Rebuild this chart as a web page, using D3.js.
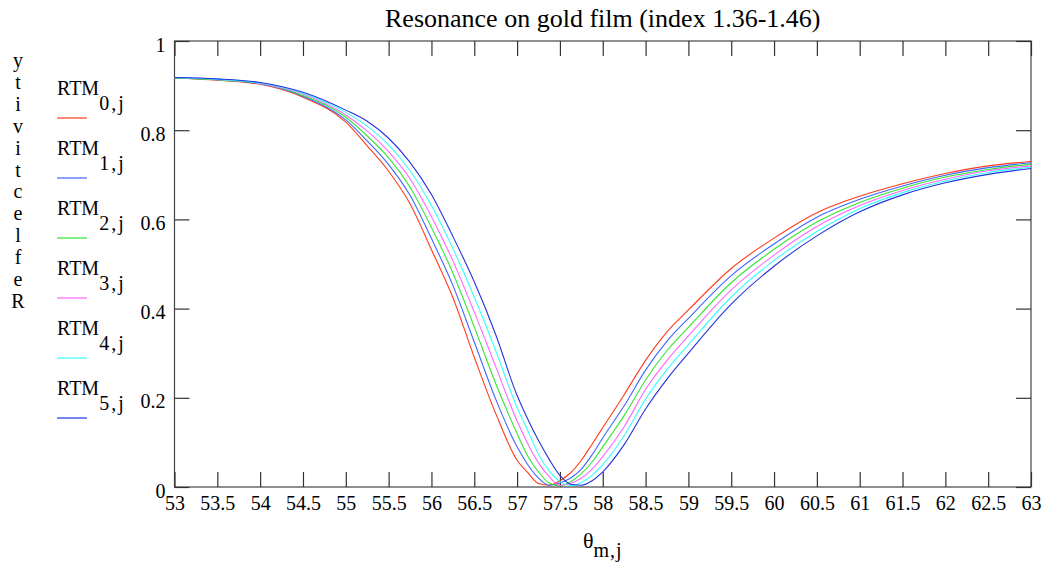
<!DOCTYPE html>
<html>
<head>
<meta charset="UTF-8">
<title>Resonance on gold film</title>
<script src="https://d3js.org/d3.v7.min.js"></script>
<style>
  body { margin: 0; background: #fff; }
  text { font-family: "Liberation Serif", "Times New Roman", serif; fill: #000; }
</style>
</head>
<body>
<div id="chart"></div>
<script>
// angle grid (deg) and reflectivity, one array per curve
var theta = [53, 53.5, 54, 54.5, 55, 55.25, 55.5, 55.75, 56, 56.25, 56.5, 56.75,
             57, 57.125, 57.25, 57.375, 57.5, 57.625, 57.75, 57.875, 58, 58.25,
             58.5, 58.75, 59, 59.5, 60, 60.5, 61, 61.5, 62, 62.5, 63];

var rtm0 = [0.917, 0.912, 0.903, 0.874, 0.818, 0.765, 0.708, 0.635, 0.532, 0.425, 0.291, 0.165,
            0.060, 0.032, 0.008, 0.004, 0.014, 0.032, 0.060, 0.096, 0.133, 0.207,
            0.284, 0.348, 0.397, 0.490, 0.558, 0.615, 0.652, 0.680, 0.703, 0.720, 0.730];
var rtm1 = [0.917, 0.913, 0.904, 0.876, 0.823, 0.776, 0.723, 0.654, 0.557, 0.452, 0.325, 0.197,
            0.090, 0.050, 0.020, 0.004, 0.009, 0.020, 0.040, 0.072, 0.110, 0.182,
            0.262, 0.327, 0.378, 0.474, 0.545, 0.605, 0.645, 0.675, 0.699, 0.716, 0.727];
var rtm2 = [0.917, 0.913, 0.905, 0.878, 0.829, 0.787, 0.738, 0.672, 0.582, 0.480, 0.359, 0.232,
            0.120, 0.069, 0.034, 0.009, 0.003, 0.012, 0.030, 0.056, 0.090, 0.160,
            0.240, 0.306, 0.358, 0.458, 0.533, 0.594, 0.638, 0.670, 0.695, 0.712, 0.724];
var rtm3 = [0.918, 0.914, 0.905, 0.881, 0.834, 0.798, 0.752, 0.691, 0.606, 0.507, 0.392, 0.270,
            0.148, 0.097, 0.054, 0.023, 0.004, 0.008, 0.020, 0.040, 0.068, 0.135,
            0.219, 0.284, 0.339, 0.442, 0.520, 0.584, 0.631, 0.665, 0.690, 0.709, 0.720];
var rtm4 = [0.918, 0.914, 0.906, 0.883, 0.840, 0.809, 0.767, 0.709, 0.631, 0.535, 0.426, 0.306,
            0.178, 0.126, 0.073, 0.036, 0.012, 0.003, 0.010, 0.026, 0.050, 0.115,
            0.197, 0.263, 0.319, 0.426, 0.508, 0.573, 0.624, 0.660, 0.686, 0.705, 0.717];
var rtm5 = [0.918, 0.915, 0.907, 0.885, 0.845, 0.820, 0.782, 0.728, 0.656, 0.562, 0.460, 0.342,
            0.205, 0.152, 0.104, 0.062, 0.026, 0.006, 0.004, 0.014, 0.034, 0.095,
            0.175, 0.242, 0.300, 0.410, 0.495, 0.563, 0.617, 0.655, 0.682, 0.701, 0.714];

var seriesIdx = ["0", "1", "2", "3", "4", "5"];
var seriesColors = ["#ff3b1a", "#3d66ff", "#33e633", "#ff66ff", "#33ffff", "#2233dd"];
var xTickValues = [53, 53.5, 54, 54.5, 55, 55.5, 56, 56.5, 57, 57.5, 58, 58.5, 59, 59.5, 60, 60.5, 61, 61.5, 62, 62.5, 63];
var yTickValues = [0, 0.2, 0.4, 0.6, 0.8, 1];

var series = [rtm0, rtm1, rtm2, rtm3, rtm4, rtm5];

var W = 1047, H = 563;
var plotLeft = 174.5, plotRight = 1031, plotTop = 41, plotBottom = 487;

var svg = d3.select("#chart").append("svg")
    .attr("width", W)
    .attr("height", H);

var x = d3.scaleLinear().domain([53, 63]).range([plotLeft, plotRight]);
var y = d3.scaleLinear().domain([0, 1]).range([plotBottom, plotTop]);

// frame
svg.append("rect")
    .attr("x", plotLeft).attr("y", plotTop)
    .attr("width", plotRight - plotLeft).attr("height", plotBottom - plotTop)
    .attr("fill", "none").attr("stroke", "#444").attr("stroke-width", 1.2);

function styleAxis(g) {
    g.select(".domain").remove();
    g.selectAll(".tick line").attr("stroke", "#333").attr("stroke-width", 1.2);
    g.selectAll(".tick text").style("font-size", "20px").style("font-family", "'Liberation Serif', serif");
}

svg.append("g")
    .attr("transform", "translate(0," + plotBottom + ")")
    .call(d3.axisBottom(x).tickValues(xTickValues).tickFormat(d3.format("")).tickSizeInner(-15).tickSizeOuter(0).tickPadding(9))
    .call(styleAxis);

svg.append("g")
    .attr("transform", "translate(0," + plotTop + ")")
    .call(d3.axisTop(x).tickValues(xTickValues).tickFormat("").tickSizeInner(-15).tickSizeOuter(0))
    .call(styleAxis);

svg.append("g")
    .attr("transform", "translate(" + plotLeft + ",0)")
    .call(d3.axisLeft(y).tickValues(yTickValues).tickFormat(d3.format("")).tickSizeInner(-15).tickSizeOuter(0).tickPadding(9))
    .call(styleAxis)
    .selectAll(".tick text").attr("dy", "0.5em");

svg.append("g")
    .attr("transform", "translate(" + plotRight + ",0)")
    .call(d3.axisRight(y).tickValues(yTickValues).tickFormat("").tickSizeInner(-15).tickSizeOuter(0))
    .call(styleAxis);

// curves
var line = d3.line()
    .x(function (d, i) { return x(theta[i]); })
    .y(function (d) { return y(d); })
    .curve(d3.curveMonotoneX);

svg.append("g").selectAll("path")
    .data(series)
    .enter().append("path")
    .attr("d", line)
    .attr("fill", "none")
    .attr("stroke", function (d, i) { return seriesColors[i]; })
    .attr("stroke-width", 1.1);

// title
svg.append("text")
    .attr("x", (plotLeft + plotRight) / 2)
    .attr("y", 27)
    .attr("text-anchor", "middle")
    .style("font-size", "26px")
    .text("Resonance on gold film (index 1.36-1.46)");

// x label: theta sub m,j
var xl = svg.append("text")
    .attr("x", (plotLeft + plotRight) / 2)
    .attr("y", 548)
    .attr("text-anchor", "middle")
    .style("font-size", "22px");
xl.append("tspan").text("θ");
xl.append("tspan").attr("dy", 9).style("font-size", "20px").attr("letter-spacing", "1px").text("m,j");

// y label, letters stacked reversed
var yLetters = "Reflectivity".split("").reverse();
svg.append("g").selectAll("text")
    .data(yLetters)
    .enter().append("text")
    .attr("x", 18)
    .attr("y", function (d, i) { return 67 + i * 21.9; })
    .attr("text-anchor", "middle")
    .style("font-size", "20px")
    .text(function (d) { return d; });

// legend
var lg = svg.append("g").selectAll("g")
    .data(seriesIdx)
    .enter().append("g")
    .attr("transform", function (d, i) { return "translate(57," + (95 + i * 60) + ")"; });

var lt = lg.append("text").style("font-size", "20px");
lt.append("tspan").text("RTM");
lt.append("tspan").attr("dy", 15).attr("letter-spacing", "2px").text(function (d) { return d + ",j"; });

lg.append("line")
    .attr("x1", 0).attr("x2", 30)
    .attr("y1", 23).attr("y2", 23)
    .attr("stroke", function (d, i) { return seriesColors[i]; })
    .attr("stroke-width", 1.2);
</script>
</body>
</html>
